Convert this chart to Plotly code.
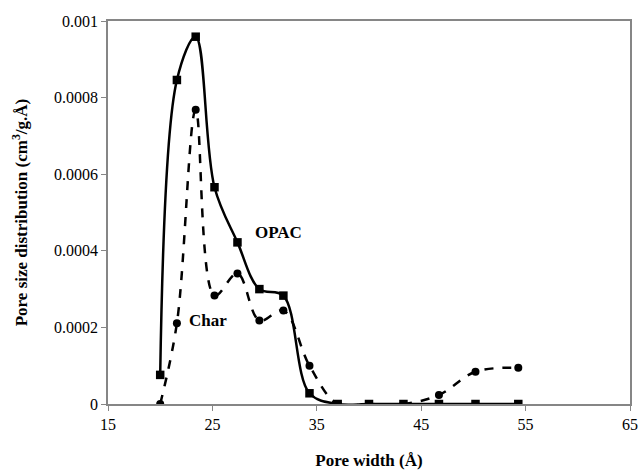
import plotly.graph_objects as go

opac_x = [20.0, 21.6, 23.4, 25.2, 27.4, 29.5, 31.8, 34.3, 37.0, 40.0, 43.3, 46.7, 50.2, 54.3]
opac_y = [0.000076, 0.000846, 0.000959, 0.000566, 0.000422, 0.000300, 0.000283, 0.000028, 0.0, 0.0, 0.0, 0.0, 0.0, 0.0]

char_x = [20.0, 21.6, 23.4, 25.2, 27.4, 29.5, 31.8, 34.3, 37.0, 40.0, 43.3, 46.7, 50.2, 54.3]
char_y = [0.0, 0.000211, 0.000768, 0.000283, 0.000341, 0.000218, 0.000244, 0.000100, 0.0, 0.0, 0.0, 0.0000235, 0.0000843, 0.0000948]

x_ticks = [15, 25, 35, 45, 55, 65]
y_ticks = [0, 0.0002, 0.0004, 0.0006, 0.0008, 0.001]
y_tick_text = ["0", "0.0002", "0.0004", "0.0006", "0.0008", "0.001"]

font = "Liberation Serif"

fig = go.Figure()
fig.add_trace(go.Scatter(
    x=char_x, y=char_y, mode="lines+markers", name="Char",
    line=dict(color="black", width=2.5, dash="dash", shape="spline", smoothing=1.0),
    marker=dict(symbol="circle", size=8, color="black"),
))
fig.add_trace(go.Scatter(
    x=opac_x, y=opac_y, mode="lines+markers", name="OPAC",
    line=dict(color="black", width=2.5, shape="spline", smoothing=1.0),
    marker=dict(symbol="square", size=8.5, color="black"),
))

fig.add_annotation(x=31.3, y=0.000448, text="<b>OPAC</b>", showarrow=False,
                   font=dict(family=font, size=17, color="black"), xanchor="center", yanchor="middle")
fig.add_annotation(x=24.6, y=0.000219, text="<b>Char</b>", showarrow=False,
                   font=dict(family=font, size=17, color="black"), xanchor="center", yanchor="middle")

axis_common = dict(
    showline=True, linecolor="#868686", linewidth=1.5, mirror=True,
    ticks="outside", ticklen=5, tickcolor="#868686", showgrid=False, zeroline=False,
    automargin=False,
    tickfont=dict(family=font, size=16, color="black"),
)

fig.update_layout(
    width=639, height=470,
    margin=dict(l=108, r=9, t=21, b=66),
    paper_bgcolor="white", plot_bgcolor="white",
    showlegend=False,
    xaxis=dict(range=[15, 65], tickvals=x_ticks,
               title=dict(text="<b>Pore width (Å)</b>", font=dict(family=font, size=17, color="black"), standoff=28),
               **axis_common),
    yaxis=dict(range=[0, 0.001], tickvals=y_ticks, ticktext=y_tick_text,
               title=dict(text="<b>Pore size distribution (cm<sup>3</sup>/g.Å)</b>", font=dict(family=font, size=17, color="black"), standoff=22),
               **axis_common),
)

fig.write_html(
    "out.html",
    config={"displayModeBar": False},
    post_script="document.body.style.margin='0';document.body.style.overflow='hidden';",
)
